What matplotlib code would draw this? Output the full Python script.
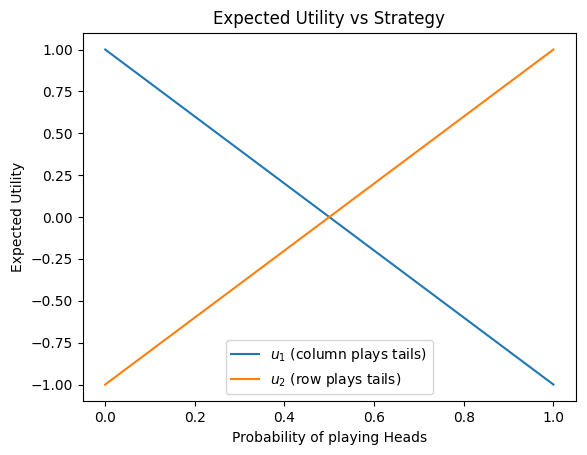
import matplotlib
matplotlib.use("Agg")
import matplotlib.pyplot as plt

# probability of playing heads (endpoints of the two lines)
p = [0.0, 1.0]
u1 = [1.0, -1.0]   # column plays tails
u2 = [-1.0, 1.0]   # row plays tails

fig = plt.figure(figsize=(5.87, 4.55), dpi=100)
ax = fig.add_subplot(111)
fig.subplots_adjust(left=0.141, right=0.981, top=0.928, bottom=0.118)

ax.plot(p, u1, label=r"$u_1$ (column plays tails)")
ax.plot(p, u2, label=r"$u_2$ (row plays tails)")
ax.set_xlabel("Probability of playing Heads")
ax.set_ylabel("Expected Utility")
ax.set_title("Expected Utility vs Strategy")
ax.legend(loc="lower center")

fig.savefig("out.png", dpi=100)
